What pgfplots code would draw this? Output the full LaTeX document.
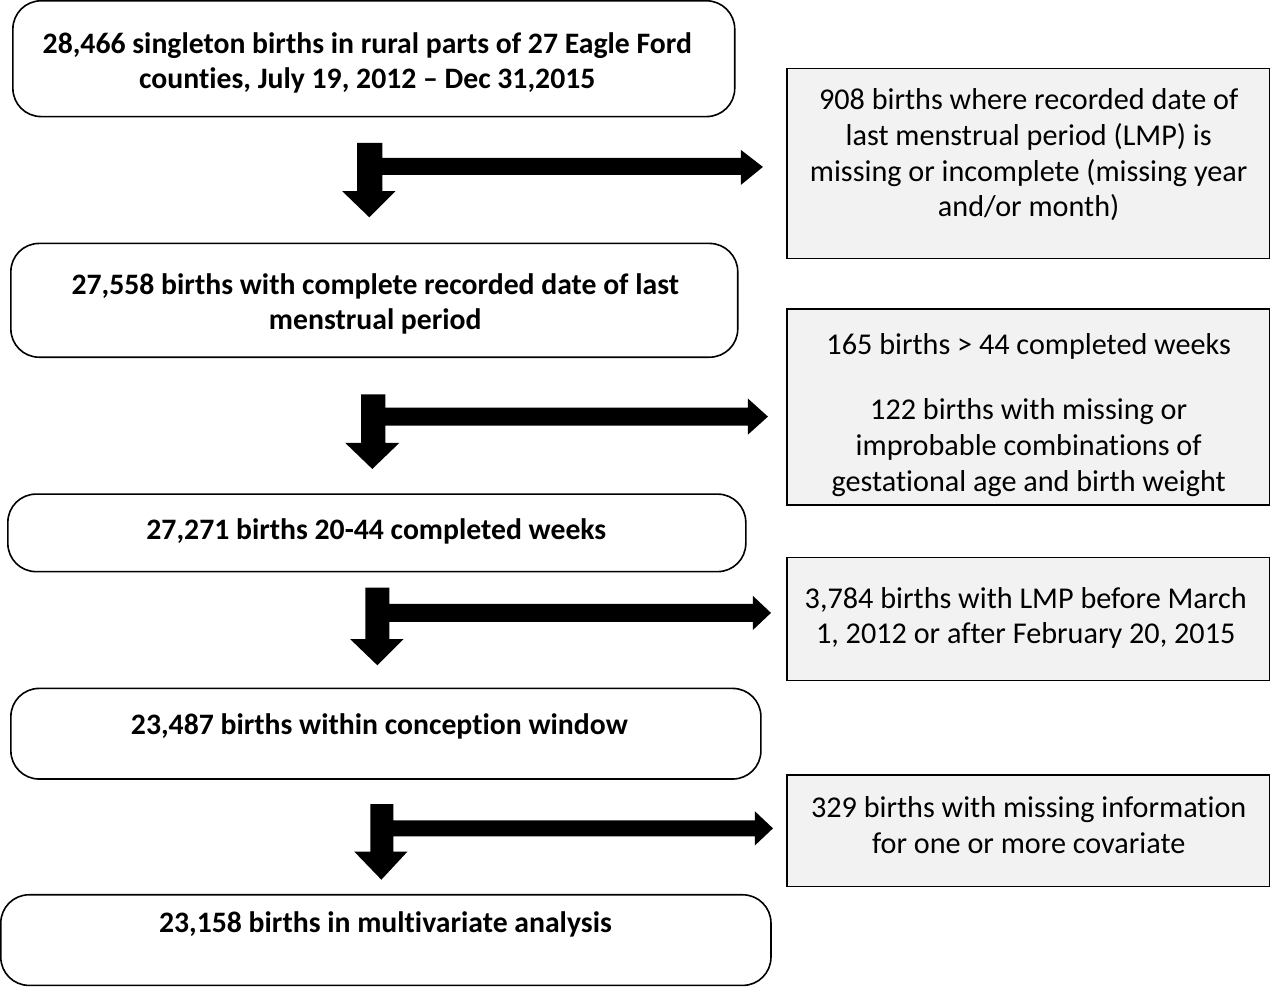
\documentclass[border=0pt]{standalone}
\usepackage{pgfplots}
\pgfplotsset{compat=1.18}
\usepackage{fontspec}
\setmainfont{Carlito}[RawFeature={-liga;-calt}]
\newfontfamily\condbold{Carlito}[RawFeature={-liga;-calt}]
\definecolor{boxgray}{HTML}{F2F2F2}
\begin{document}
\begin{tikzpicture}
\begin{axis}[
  scale only axis, width=635pt, height=494pt,
  xmin=0, xmax=1270, ymin=0, ymax=988, y dir=reverse,
  axis lines=none, ticks=none, clip=false,
]
% main (rounded) boxes
\draw[line width=0.8pt, rounded corners=14pt] (20,7) rectangle (737,122);
\draw[line width=0.8pt, rounded corners=14pt] (18,248) rectangle (740,361);
\draw[line width=0.8pt, rounded corners=14pt] (15,497) rectangle (748,574);
\draw[line width=0.8pt, rounded corners=14pt] (18,690) rectangle (763,780);
\draw[line width=0.8pt, rounded corners=14pt] (8,895) rectangle (773,985);
% exclusion boxes
\draw[line width=0.7pt, fill=boxgray] (789,74) rectangle (1268,263);
\draw[line width=0.7pt, fill=boxgray] (789,313) rectangle (1268,508);
\draw[line width=0.7pt, fill=boxgray] (789,560) rectangle (1268,682);
\draw[line width=0.7pt, fill=boxgray] (789,776) rectangle (1268,887);
% arrows
\addplot[draw=none, fill=black] coordinates {(362,148) (387,148) (387,163) (743,163) (743,155) (765,172) (743,190) (743,180) (387,180) (387,196) (400,196) (374,222) (347,196) (362,196)} -- cycle;
\addplot[draw=none, fill=black] coordinates {(366,398) (390,398) (390,411) (750,411) (750,402) (770,420) (750,438) (750,429) (390,429) (390,446) (404,446) (377,472) (350,446) (366,446)} -- cycle;
\addplot[draw=none, fill=black] coordinates {(370,590) (394,590) (394,606) (755,606) (755,598) (773,615) (755,632) (755,624) (394,624) (394,641) (408,641) (382,667) (355,641) (370,641)} -- cycle;
\addplot[draw=none, fill=black] coordinates {(375,805) (398,805) (398,821) (757,821) (757,812) (775,829) (757,846) (757,837) (398,837) (398,852) (412,852) (386,880) (359,852) (375,852)} -- cycle;
% texts
\tikzset{bt/.style={align=center, font=\condbold\bfseries\fontsize{14.75pt}{17.5pt}\selectfont, inner sep=0pt},
         rt/.style={align=center, font=\fontsize{15pt}{17.75pt}\selectfont, inner sep=0pt}}
\node[bt] at (372,69) {28,466 singleton births in rural parts of 27 Eagle Ford\\counties, July 19, 2012 – Dec 31,2015};
\node[bt] at (380,308) {27,558 births with complete recorded date of last\\menstrual period};
\node[bt] at (381,534) {27,271 births 20-44 completed weeks};
\node[bt] at (384,728) {23,487 births within conception window};
\node[bt] at (390,924) {23,158 births in multivariate analysis};
\node[rt] at (1029,160) {908 births where recorded date of\\last menstrual period (LMP) is\\missing or incomplete (missing year\\and/or month)};
\node[rt] at (1029,350) {165 births > 44 completed weeks};
\node[rt] at (1029,451) {122 births with missing or\\improbable combinations of\\gestational age and birth weight};
\node[rt] at (1026,620) {3,784 births with LMP before March\\1, 2012 or after February 20, 2015};
\node[rt] at (1029,826) {329 births with missing information\\for one or more covariate};
\end{axis}
\end{tikzpicture}
\end{document}
